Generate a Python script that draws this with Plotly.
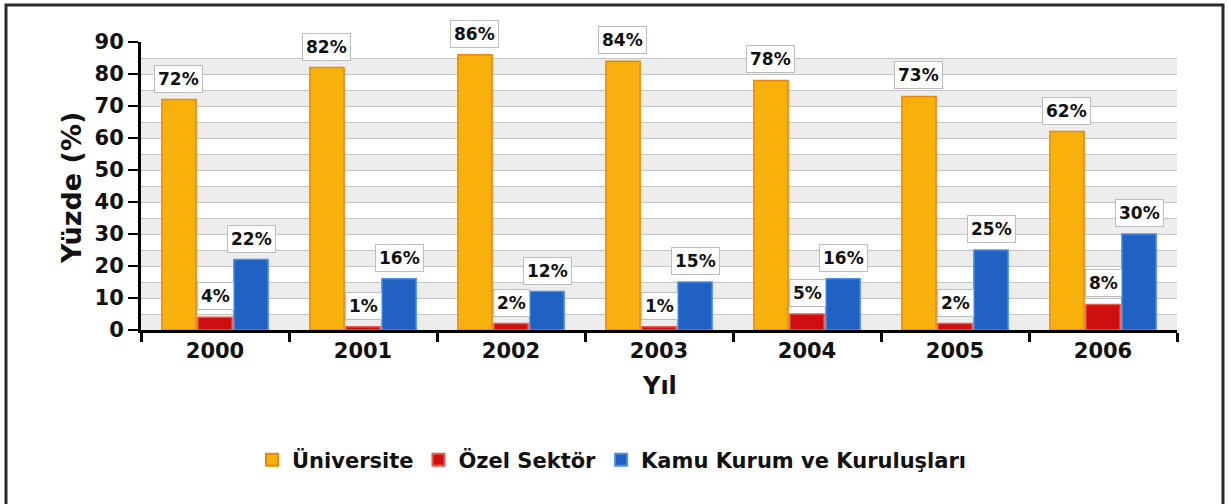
import plotly.graph_objects as go

years = ["2000", "2001", "2002", "2003", "2004", "2005", "2006"]
universite = [72, 82, 86, 84, 78, 73, 62]
ozel_sektor = [4, 1, 2, 1, 5, 2, 8]
kamu = [22, 16, 12, 15, 16, 25, 30]

series_names = ["Üniversite", "Özel Sektör", "Kamu Kurum ve Kuruluşları"]
series_values = [universite, ozel_sektor, kamu]
fill_colors = ["#F7B00C", "#CF1010", "#1F62C4"]
line_colors = ["#E8880A", "#E85A4A", "#4A8FE2"]

W, H = 1228, 504
PLOT_L, PLOT_R, PLOT_T, PLOT_B = 141, 1177, 42, 330   # in screenshot pixels
ML, MR, MT, MB = PLOT_L, W - PLOT_R, PLOT_T, H - PLOT_B
PW, PH = W - ML - MR, H - MT - MB

FONT = "DejaVu Sans"
BARGAP = 0.27


def px_x(px):
    return (px - PLOT_L) / PW


def px_y(py):
    return (PLOT_B - py) / PH


fig = go.Figure()
for name, vals, fc, lc in zip(series_names, series_values, fill_colors, line_colors):
    fig.add_trace(go.Bar(
        x=years, y=vals, name=name,
        marker=dict(color=fc, line=dict(color=lc, width=1.5)),
        hoverinfo="skip",
    ))

# alternating horizontal bands
shapes = []
for lo in range(0, 90, 10):
    shapes.append(dict(type="rect", xref="paper", yref="y", x0=0, x1=1, y0=lo, y1=lo + 5,
                       fillcolor="#EDEDED", line=dict(width=0), layer="below"))
# outer frame
shapes.append(dict(type="rect", xref="paper", yref="paper",
                   x0=px_x(6), x1=px_x(1223), y0=px_y(515), y1=px_y(5),
                   line=dict(color="#2A2A2A", width=3), fillcolor="rgba(0,0,0,0)"))

# value labels
annotations = []
w = (1 - BARGAP) / 3
for j, vals in enumerate(series_values):
    for i, v in enumerate(vals):
        annotations.append(dict(
            x=i + (j - 1) * w, y=v, xref="x", yref="y",
            text=f"{v}%", showarrow=False, yanchor="bottom", yshift=7,
            bgcolor="white", bordercolor="#BDBDBD", borderwidth=1, borderpad=3,
            font=dict(family=FONT, size=17, color="#111111", weight="bold"),
        ))

annotations.append(dict(
    x=0.5, y=px_y(386), xref="paper", yref="paper", text="Yıl", showarrow=False,
    xanchor="center", yanchor="middle",
    font=dict(family=FONT, size=24, color="#111111", weight="bold")))
annotations.append(dict(
    x=px_x(71), y=px_y(188), xref="paper", yref="paper", text="Yüzde (%)", showarrow=False,
    textangle=-90, xanchor="center", yanchor="middle",
    font=dict(family=FONT, size=27, color="#111111", weight="bold")))

fig.update_layout(
    width=W, height=H,
    margin=dict(l=ML, r=MR, t=MT, b=MB, pad=0),
    paper_bgcolor="white", plot_bgcolor="white",
    barmode="group", bargap=BARGAP, bargroupgap=0.05,
    shapes=shapes, annotations=annotations,
    showlegend=True,
    legend=dict(orientation="h", x=px_x(252), y=px_y(460), xanchor="left", yanchor="middle",
                font=dict(family=FONT, size=21, color="#111111", weight="bold"),
                itemsizing="constant", traceorder="normal", bgcolor="rgba(0,0,0,0)"),
    xaxis=dict(
        type="category", showline=True, linecolor="black", linewidth=3,
        ticks="outside", tickson="boundaries", ticklen=9, tickwidth=3, tickcolor="black",
        tickfont=dict(family=FONT, size=21, color="#111111", weight="bold"),
        showgrid=False, zeroline=False, fixedrange=True,
    ),
    yaxis=dict(
        range=[0, 90], dtick=10, tick0=0, showline=True, linecolor="black", linewidth=3,
        ticks="outside", ticklen=10, tickwidth=2.5, tickcolor="black",
        tickfont=dict(family=FONT, size=21, color="#111111", weight="bold"),
        showgrid=True, gridcolor="#C4C4C4", gridwidth=1,
        minor=dict(dtick=5, showgrid=True, gridcolor="#C4C4C4", gridwidth=1),
        zeroline=False, fixedrange=True,
    ),
)

fig.write_html(
    "out.html",
    config={"displayModeBar": False, "staticPlot": True},
    post_script="document.body.style.margin='0';document.body.style.overflow='hidden';",
)
